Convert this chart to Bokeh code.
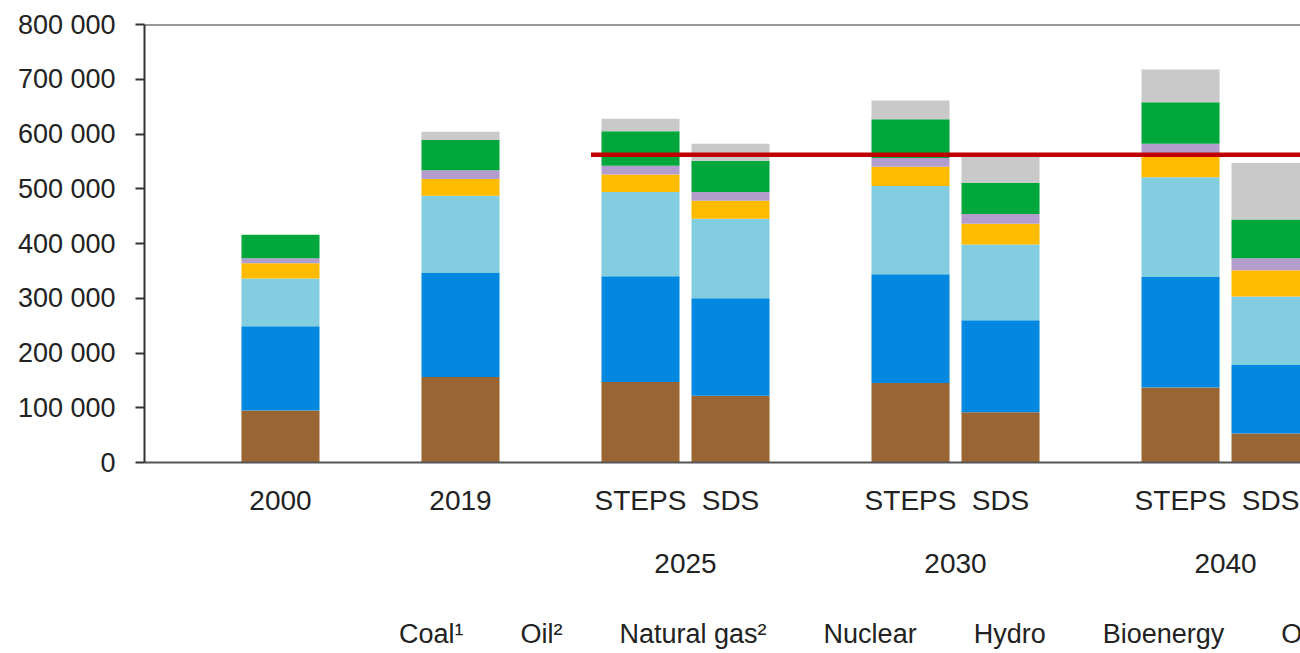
from bokeh.plotting import figure
from bokeh.layouts import column
from bokeh.models import (ColumnDataSource, FixedTicker, LinearAxis, Range1d,
                          Legend, LegendItem, Span)
from bokeh.embed import file_html
from bokeh.resources import INLINE

# ---------------- data ----------------
categories = ["2000", "2019", "2025 STEPS", "2025 SDS", "2030 STEPS", "2030 SDS", "2040 STEPS", "2040 SDS"]
sub_labels = ["2000", "2019", "STEPS", "SDS", "STEPS", "SDS", "STEPS", "SDS"]
group_labels = ["2025", "2030", "2040"]
series = ["Coal¹", "Oil²", "Natural gas²", "Nuclear", "Hydro", "Bioenergy", "Other³"]

coal = [95000, 156000, 147000, 122000, 145000, 92000, 137000, 53000]
oil = [154000, 191000, 193000, 178000, 199000, 168000, 202000, 125000]
natural_gas = [87000, 140000, 154000, 145000, 161000, 138000, 182000, 125000]
nuclear = [28000, 31000, 32000, 33000, 35000, 38000, 39000, 48000]
hydro = [9000, 16000, 16000, 16000, 16000, 18000, 22000, 22000]
bioenergy = [43000, 55000, 63000, 57000, 71000, 57000, 76000, 71000]
other = [0, 15000, 23000, 31000, 34000, 50000, 60000, 103000]

target_value = 562000

y_ticks = [0, 100000, 200000, 300000, 400000, 500000, 600000, 700000, 800000]
y_tick_labels = ["0", "100 000", "200 000", "300 000", "400 000", "500 000", "600 000", "700 000", "800 000"]

# ---------------- layout (positions / styles) ----------------
x_positions = [0, 2, 4, 5, 7, 8, 10, 11]
group_positions = [4.5, 7.5, 10.5]
target_start = 3.45
bar_width = 0.867
colors = ["#996633", "#0288E0", "#82CDE0", "#FFBB00", "#B39DCC", "#00A83C", "#C9C9C9"]
FONT = "Liberation Sans"
TXT = "#222222"

fields = ["coal", "oil", "natural_gas", "nuclear", "hydro", "bioenergy", "other"]
source = ColumnDataSource(dict(
    x=x_positions, cat=categories,
    coal=coal, oil=oil, natural_gas=natural_gas, nuclear=nuclear,
    hydro=hydro, bioenergy=bioenergy, other=other,
))

p = figure(frame_width=1156, frame_height=438, output_backend="svg", toolbar_location=None,
           x_range=Range1d(-1.511, 11.333), y_range=Range1d(0, 800000),
           min_border_left=144, min_border_right=0, min_border_top=24,
           min_border_bottom=138)
p.outline_line_color = None
p.xgrid.visible = False
p.ygrid.visible = False
p.background_fill_color = "white"
p.border_fill_color = "white"

renderers = p.vbar_stack(fields, x="x", width=bar_width, source=source,
                         color=colors, line_color=None)

p.segment(x0=[target_start], y0=[target_value], x1=[x_positions[-1] + 1], y1=[target_value],
          line_color="#C00000", line_width=4.5)

p.add_layout(Span(location=y_ticks[-1], dimension="width", line_color="#333333", line_width=2))

# y axis
ya = p.yaxis[0]
ya.ticker = FixedTicker(ticks=y_ticks)
ya.major_label_overrides = {t: l for t, l in zip(y_ticks, y_tick_labels)}
ya.major_tick_out = 9
ya.major_tick_in = 0
ya.minor_tick_line_color = None
ya.axis_line_width = 2
ya.axis_line_color = "#333333"
ya.major_tick_line_width = 2
ya.major_tick_line_color = "#333333"
ya.major_label_text_font = FONT
ya.major_label_text_font_size = "27px"
ya.major_label_text_color = TXT
ya.major_label_standoff = 20

# x axis row 1
xa = p.xaxis[0]
xa.ticker = FixedTicker(ticks=x_positions)
xa.major_label_overrides = {t: l for t, l in zip(x_positions, sub_labels)}
xa.major_tick_line_color = None
xa.major_tick_out = 0
xa.major_tick_in = 0
xa.minor_tick_line_color = None
xa.axis_line_width = 2
xa.axis_line_color = "#555555"
xa.major_label_text_font = FONT
xa.major_label_text_font_size = "28px"
xa.major_label_text_color = TXT
xa.major_label_standoff = 22

# x axis row 2 (years)
xa2 = LinearAxis(ticker=FixedTicker(ticks=group_positions),
                 major_label_overrides={t: l for t, l in zip(group_positions, group_labels)})
xa2.axis_line_color = None
xa2.major_tick_line_color = None
xa2.minor_tick_line_color = None
xa2.major_tick_out = 0
xa2.major_tick_in = 0
xa2.major_label_text_font = FONT
xa2.major_label_text_font_size = "28px"
xa2.major_label_text_color = TXT
xa2.major_label_standoff = 35
p.add_layout(xa2, "below")

# ---------------- legend strip (separate small figure) ----------------
lf = figure(width=1300, height=53, output_backend="svg", toolbar_location=None,
            x_range=Range1d(0, 1), y_range=Range1d(0, 1),
            x_axis_type=None, y_axis_type=None,
            min_border_left=0, min_border_right=0, min_border_top=0, min_border_bottom=0)
lf.outline_line_color = None
lf.xgrid.visible = False
lf.ygrid.visible = False
lf.background_fill_color = "white"
lf.border_fill_color = "white"

empty = ColumnDataSource(dict(x=[], top=[]))
legend_renderers = [lf.vbar(x="x", top="top", width=0.1, source=empty, color=c, line_color=None)
                    for c in colors]

legend = Legend(items=[LegendItem(label=s, renderers=[r]) for s, r in zip(series, legend_renderers)],
                orientation="horizontal", location=(227, 3))
legend.label_text_font = FONT
legend.label_text_font_size = "27px"
legend.label_text_color = TXT
legend.glyph_width = 22
legend.glyph_height = 20
legend.label_standoff = 6
legend.spacing = 29
legend.padding = 0
legend.margin = 0
legend.border_line_color = None
legend.background_fill_alpha = 0
lf.add_layout(legend, "center")

layout = column(p, lf, spacing=0)

open("out.html", "w").write(file_html(layout, INLINE))
